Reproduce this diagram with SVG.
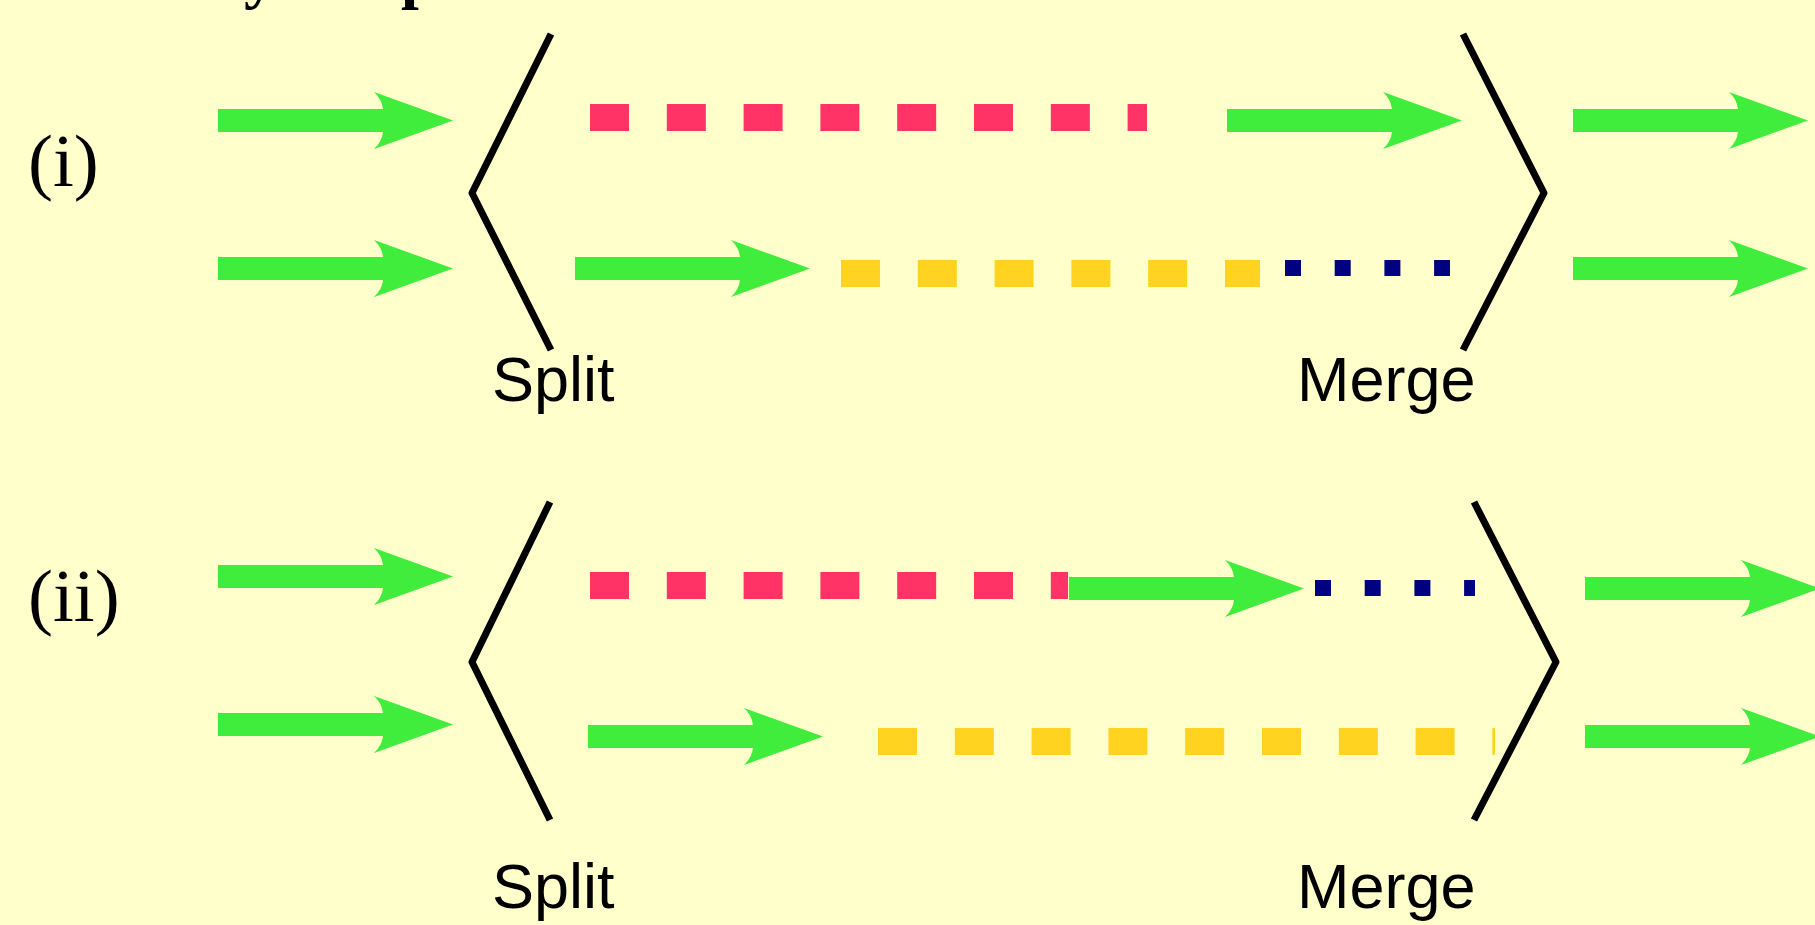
<svg xmlns="http://www.w3.org/2000/svg" xmlns:xlink="http://www.w3.org/1999/xlink" width="1815" height="925" viewBox="0 0 1815 925">
  <style>
    .bg { fill: #FFFFCC; }
    .bracket { fill: none; stroke: #000000; stroke-width: 7; stroke-linejoin: round; }
    .lbl { font-family: "Liberation Sans", Arial, sans-serif; font-size: 63px; fill: #000000; }
    .num { font-family: "Liberation Serif", "Times New Roman", serif; font-size: 75px; fill: #000000; }
    .title { font-family: "Liberation Serif", "Times New Roman", serif; font-size: 64px; font-weight: bold; fill: #000000; }
    .red { fill: none; stroke: #FF3366; stroke-width: 27; stroke-dasharray: 39 37.8; }
    .yel { fill: none; stroke: #FFD320; stroke-width: 27; stroke-dasharray: 39 37.8; }
    .blu { fill: none; stroke: #000080; stroke-width: 16; stroke-dasharray: 16 33.7; }
    .arrow { fill: #40EC3C; }
  </style>
  <defs>
    <path id="arr" d="M0,-11.5 H165 Q164,-21 156,-28.5 L235,0 L156,28.5 Q164,21 165,11.5 H0 Z"/>
  </defs>
  <rect class="bg" x="0" y="0" width="1815" height="925"/>

  <g id="title">
    <text class="title"><tspan x="244" y="-4">y</tspan><tspan x="401" y="-4">p</tspan></text>
  </g>

  <g id="part-i">
    <g id="label-i"><text class="num" x="28" y="186">(i)</text></g>
    <g id="split-i">
      <polyline class="bracket" points="551,34 472,193 551,350"/>
      <text class="lbl" x="492" y="401">Split</text>
    </g>
    <g id="merge-i">
      <polyline class="bracket" points="1463,34 1544,193 1463,350"/>
      <text class="lbl" x="1297" y="401">Merge</text>
    </g>
    <g id="stream-i-top">
      <line class="red" x1="590" y1="117.5" x2="1147" y2="117.5"/>
    </g>
    <g id="stream-i-bottom">
      <line class="yel" x1="841" y1="273.5" x2="1260" y2="273.5"/>
      <line class="blu" x1="1285" y1="268" x2="1450" y2="268"/>
    </g>
  </g>

  <g id="part-ii">
    <g id="label-ii"><text class="num" x="28" y="621">(ii)</text></g>
    <g id="split-ii">
      <polyline class="bracket" points="550,502 472,662 550,820"/>
      <text class="lbl" x="492" y="908">Split</text>
    </g>
    <g id="merge-ii">
      <polyline class="bracket" points="1474,502 1556,662 1474,820"/>
      <text class="lbl" x="1297" y="908">Merge</text>
    </g>
    <g id="stream-ii-top">
      <line class="red" x1="590" y1="585.5" x2="1068" y2="585.5"/>
      <line class="blu" x1="1315" y1="588" x2="1475" y2="588"/>
    </g>
    <g id="stream-ii-bottom">
      <line class="yel" x1="878" y1="741.5" x2="1495" y2="741.5"/>
    </g>
  </g>

  <g id="connectors" class="arrow">
    <use xlink:href="#arr" transform="translate(218,120.5)"/>
    <use xlink:href="#arr" transform="translate(218,268.5)"/>
    <use xlink:href="#arr" transform="translate(575,268.5)"/>
    <use xlink:href="#arr" transform="translate(1227,120.5)"/>
    <use xlink:href="#arr" transform="translate(1573,120.5)"/>
    <use xlink:href="#arr" transform="translate(1573,268.5)"/>
    <use xlink:href="#arr" transform="translate(218,576.5)"/>
    <use xlink:href="#arr" transform="translate(218,724.5)"/>
    <use xlink:href="#arr" transform="translate(1069,588.5)"/>
    <use xlink:href="#arr" transform="translate(588,736.5)"/>
    <use xlink:href="#arr" transform="translate(1585,588.5)"/>
    <use xlink:href="#arr" transform="translate(1585,736.5)"/>
  </g>
</svg>
